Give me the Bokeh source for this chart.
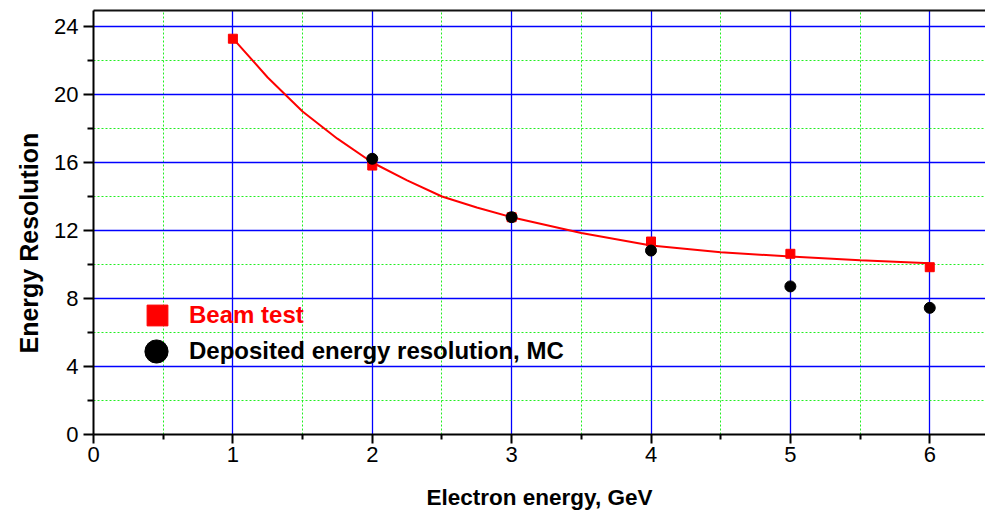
from bokeh.plotting import figure
from bokeh.models import (FixedTicker, LinearAxis, Legend, LegendItem, Range1d, Title)
from bokeh.embed import file_html
from bokeh.resources import INLINE

# ---- data ----
beam_x = [1, 2, 3, 4, 5, 6]
beam_y = [23.28, 15.82, 12.78, 11.35, 10.63, 9.84]
mc_x = [2, 3, 4, 5, 6]
mc_y = [16.22, 12.78, 10.82, 8.71, 7.45]
fit_x = [1, 1.25, 1.5, 1.75, 2, 2.25, 2.5, 2.75, 3, 3.5, 4, 4.5, 5, 5.5, 6]
fit_y = [23.3, 21.0, 19.0, 17.4, 16.0, 14.95, 14.0, 13.35, 12.78, 11.85, 11.12, 10.72, 10.47, 10.25, 10.08]
x_ticks = [0, 1, 2, 3, 4, 5, 6]
x_minor = [0.5, 1.5, 2.5, 3.5, 4.5, 5.5]
y_ticks = [0, 4, 8, 12, 16, 20, 24]
y_minor = [2, 6, 10, 14, 18, 22]
x_title = "Electron energy, GeV"
y_title = "Energy Resolution"

FONT = "Liberation Sans"

p = figure(width=985, height=514, output_backend="svg", toolbar_location=None,
           x_range=Range1d(0, 6.4), y_range=Range1d(0, 24.94),
           min_border_left=93, min_border_right=0, min_border_top=10, min_border_bottom=80)
p.outline_line_color = None
p.background_fill_color = "white"
p.border_fill_color = "white"

# grids
for ax, t, m in ((p.xaxis[0], x_ticks, x_minor), (p.yaxis[0], y_ticks, y_minor)):
    ax.ticker = FixedTicker(ticks=t, minor_ticks=m)
for g in (p.xgrid[0], p.ygrid[0]):
    g.grid_line_color = "#0000ff"
    g.grid_line_width = 1.3
    g.minor_grid_line_color = "#22ee22"
    g.minor_grid_line_width = 1
    g.minor_grid_line_dash = "2 2"

# axes style
for ax in (p.xaxis[0], p.yaxis[0]):
    ax.axis_line_color = "black"
    ax.axis_line_width = 2
    ax.major_tick_line_color = "black"
    ax.major_tick_line_width = 2
    ax.minor_tick_line_color = "black"
    ax.minor_tick_line_width = 2
    ax.major_tick_in = 0
    ax.minor_tick_in = 0
    ax.major_label_text_font = FONT
    ax.major_label_text_font_size = "22px"
    ax.major_label_text_color = "black"
    ax.axis_label_text_font = FONT
    ax.axis_label_text_font_style = "bold"
    ax.axis_label_text_color = "black"

p.xaxis.axis_label = x_title
p.xaxis.axis_label_text_font_size = "22.5px"
p.xaxis.major_tick_out = 9
p.xaxis.minor_tick_out = 5
p.xaxis.major_label_standoff = 3
p.xaxis.axis_label_standoff = 20

p.yaxis.major_tick_out = 10
p.yaxis.minor_tick_out = 6
p.yaxis.major_label_standoff = 5

# y title: a side title, placed a little below the frame centre as in the original
p.add_layout(Title(text=y_title, align="left", offset=81, standoff=17,
                   text_font=FONT, text_font_size="25px", text_font_style="bold",
                   text_color="black"), "left")

# top border
top = LinearAxis(ticker=FixedTicker(ticks=[]), major_label_text_font_size="0px",
                 major_tick_out=0, minor_tick_out=0, major_label_standoff=0,
                 axis_line_color="#111111", axis_line_width=2)
p.add_layout(top, "above")

# fit line
p.line(fit_x, fit_y, line_color="red", line_width=2)

# markers
r_beam = p.scatter(beam_x, beam_y, marker="square", size=9, fill_color="red", line_color="red")
r_mc = p.scatter(mc_x, mc_y, marker="circle", size=11, fill_color="black", line_color="black")

leg1 = Legend(items=[LegendItem(label="Beam test", renderers=[r_beam])],
              location=(38, 93), glyph_width=52, glyph_height=52, label_standoff=6,
              padding=0, margin=0, spacing=0, border_line_color=None,
              background_fill_alpha=0, label_text_font=FONT, label_text_font_size="24px",
              label_text_font_style="bold", label_text_color="red")
leg2 = Legend(items=[LegendItem(label="Deposited energy resolution, MC", renderers=[r_mc])],
              location=(34, 54), glyph_width=58, glyph_height=58, label_standoff=4,
              padding=0, margin=0, spacing=0, border_line_color=None,
              background_fill_alpha=0, label_text_font=FONT, label_text_font_size="24px",
              label_text_font_style="bold", label_text_color="black")
p.add_layout(leg1, "center")
p.add_layout(leg2, "center")

open("out.html", "w").write(file_html(p, INLINE))
